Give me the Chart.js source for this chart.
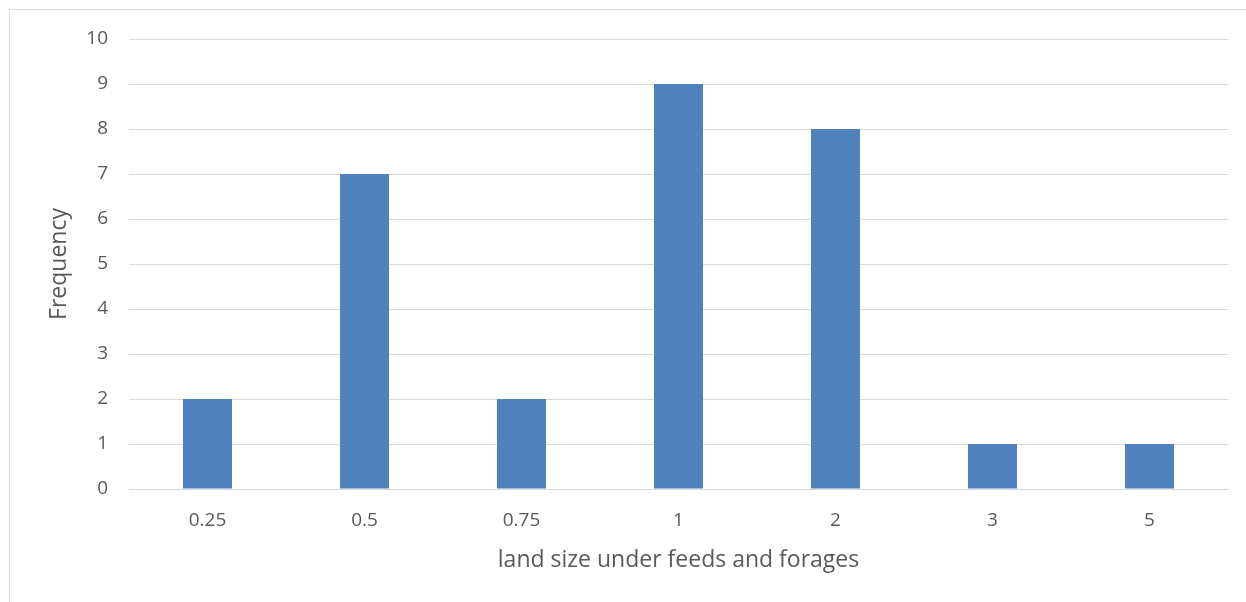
<!DOCTYPE html>
<html>
<head>
<meta charset="utf-8">
<script src="https://cdn.jsdelivr.net/npm/chart.js@4/dist/chart.umd.min.js"></script>
<style>
  html, body { margin: 0; padding: 0; background: #fff; }
  #wrap { position: relative; width: 1246px; height: 602px; overflow: hidden; }
  #frame { position: absolute; left: 9px; top: 9px; width: 1300px; height: 700px;
           border-left: 1px solid #d9d9d9; border-top: 1px solid #d9d9d9; box-sizing: border-box; }
  canvas { position: absolute; left: 0; top: 0; }
</style>
</head>
<body>
<div id="wrap">
  <div id="frame"></div>
  <canvas id="c" width="1246" height="602"></canvas>
</div>
<script>
const categories = ["0.25", "0.5", "0.75", "1", "2", "3", "5"];
const frequency = [2, 7, 2, 9, 8, 1, 1];
const yTicks = [0, 1, 2, 3, 4, 5, 6, 7, 8, 9, 10];

const font = "'Open Sans', sans-serif";
const textColor = "#595959";
const gridColor = "#d9d9d9";

new Chart(document.getElementById("c"), {
  type: "bar",
  data: {
    labels: categories,
    datasets: [{
      label: "Frequency",
      data: frequency,
      backgroundColor: "#4f81bd",
      borderWidth: 0,
      categoryPercentage: 1.0,
      barPercentage: 0.312
    }]
  },
  options: {
    responsive: false,
    animation: false,
    devicePixelRatio: 1,
    layout: { padding: { left: 0, right: 18, top: 39, bottom: 0 } },
    plugins: { legend: { display: false }, tooltip: { enabled: false } },
    scales: {
      x: {
        grid: { display: false, drawTicks: false },
        border: { display: true, color: gridColor, width: 1 },
        ticks: { color: textColor, font: { family: font, size: 19 }, padding: 20 },
        title: { display: true, text: "land size under feeds and forages", color: textColor,
                 font: { family: font, size: 23 }, padding: { top: 0, bottom: 28 } },
        afterFit: (s) => { s.height = 113; }
      },
      y: {
        min: 0, max: 10,
        afterBuildTicks: (s) => { s.ticks = yTicks.map(v => ({ value: v })); },
        grid: { color: gridColor, lineWidth: 1, drawTicks: false },
        border: { display: false },
        ticks: { color: textColor, font: { family: font, size: 19 }, padding: 21 },
        title: { display: true, text: "Frequency", color: textColor,
                 font: { family: font, size: 23 }, padding: { top: 46, bottom: 0 } },
        afterFit: (s) => { s.width = 129; }
      }
    }
  }
});
</script>
</body>
</html>
